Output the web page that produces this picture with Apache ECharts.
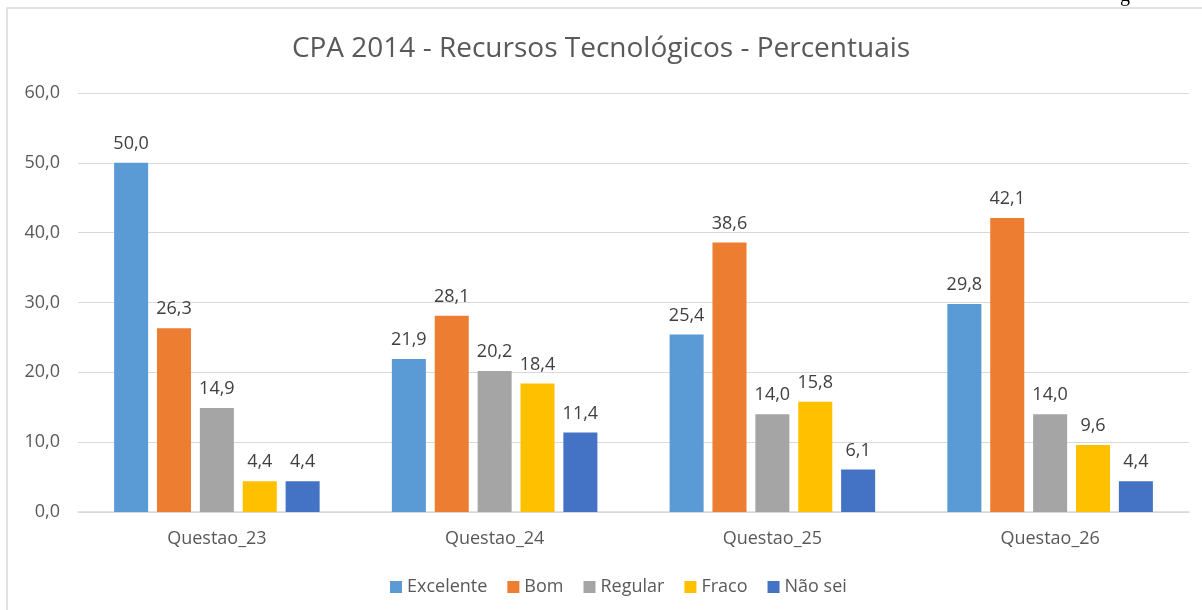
<!DOCTYPE html>
<html>
<head>
<meta charset="utf-8">
<script src="https://cdn.jsdelivr.net/npm/echarts@6/dist/echarts.min.js"></script>
<style>
  html, body { margin: 0; padding: 0; background: #fff; }
  #chart { width: 1202px; height: 610px; }
</style>
</head>
<body>
<div id="chart"></div>
<script>
const categories = ['Questao_23', 'Questao_24', 'Questao_25', 'Questao_26'];
const seriesNames = ['Excelente', 'Bom', 'Regular', 'Fraco', 'Não sei'];
const excelente = [50.0, 21.9, 25.4, 29.8];
const bom = [26.3, 28.1, 38.6, 42.1];
const regular = [14.9, 20.2, 14.0, 14.0];
const fraco = [4.4, 18.4, 15.8, 9.6];
const naoSei = [4.4, 11.4, 6.1, 4.4];
const colors = ['#5B9BD5', '#ED7D31', '#A5A5A5', '#FFC000', '#4472C4'];

const values = [excelente, bom, regular, fraco, naoSei];
const font = '"Open Sans", "Noto Sans", sans-serif';
const fmt = v => v.toFixed(1).replace('.', ',');

const myChart = echarts.init(document.getElementById('chart'));
const option = {
  animation: false,
  color: colors,
  textStyle: { fontFamily: font },
  title: {
    text: 'CPA 2014 - Recursos Tecnológicos - Percentuais',
    left: 'center',
    top: 30,
    textStyle: { fontFamily: font, fontSize: 28, fontWeight: 'normal', color: '#595959' }
  },
  graphic: [
    {
      type: 'rect',
      shape: { x: 7, y: 8, width: 1220, height: 620 },
      style: { fill: 'none', stroke: '#D9D9D9', lineWidth: 1.5 },
      silent: true
    },
    {
      type: 'text',
      left: 1120, top: -14,
      style: { text: 'g', font: '20px "Liberation Serif", serif', fill: '#000' },
      silent: true
    }
  ],
  legend: {
    data: seriesNames,
    bottom: 9,
    left: 385,
    itemWidth: 12,
    itemHeight: 12,
    itemGap: 20,
    icon: 'rect',
    textStyle: { fontFamily: font, fontSize: 18, color: '#595959' }
  },
  grid: { left: 78, right: 13, top: 93, bottom: 98, containLabel: false },
  xAxis: {
    type: 'category',
    data: categories,
    axisLine: { lineStyle: { color: '#D9D9D9', width: 1.5 } },
    axisTick: { show: false },
    axisLabel: { fontFamily: font, fontSize: 18, color: '#595959', margin: 18 }
  },
  yAxis: {
    type: 'value',
    min: 0,
    max: 60,
    interval: 10,
    axisLine: { show: false },
    axisTick: { show: false },
    splitLine: { lineStyle: { color: '#D9D9D9', width: 1 } },
    axisLabel: { fontFamily: font, fontSize: 18, color: '#595959', margin: 18, formatter: fmt }
  },
  series: seriesNames.map((name, i) => ({
    name: name,
    type: 'bar',
    data: values[i],
    barGap: '26%',
    barCategoryGap: '26%',
    label: {
      show: true,
      position: 'top',
      distance: 10,
      fontFamily: font,
      fontSize: 18,
      color: '#404040',
      formatter: p => fmt(p.value)
    }
  }))
};
option && myChart.setOption(option);
</script>
</body>
</html>
